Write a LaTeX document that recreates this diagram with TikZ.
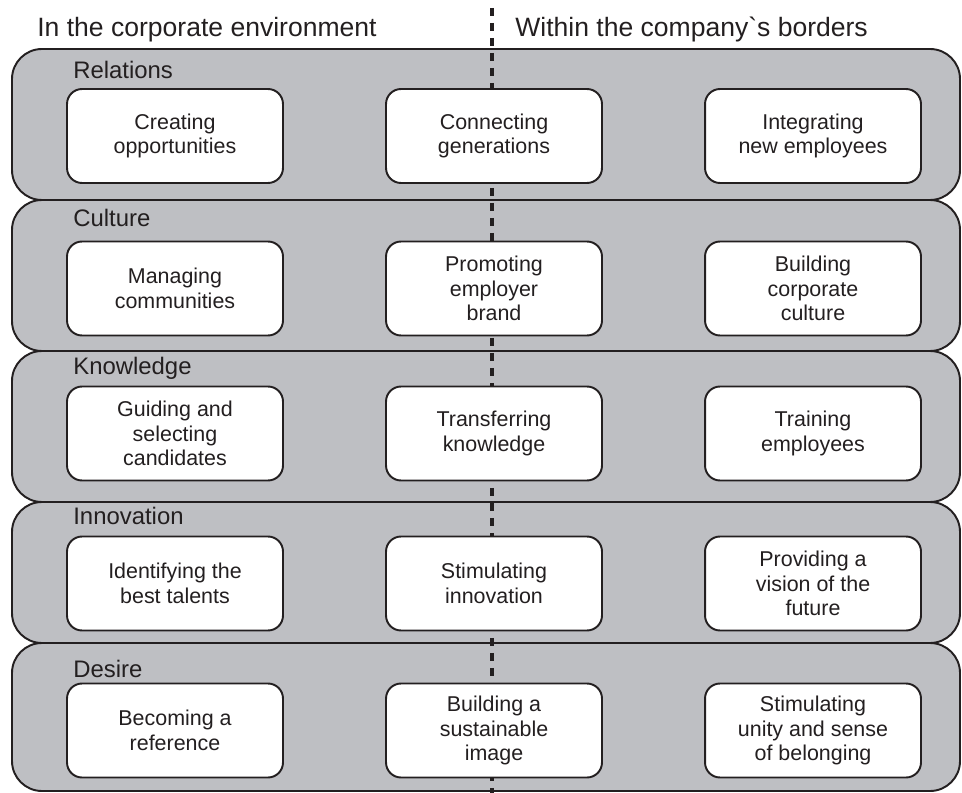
\documentclass[tikz,border=0pt]{standalone}
\usepackage{fontspec}
\newfontfamily\heliv{Liberation Sans}
\usetikzlibrary{positioning}
\definecolor{bandgray}{RGB}{190,191,195}
\definecolor{ink}{RGB}{35,31,32}

\begin{document}
\begin{tikzpicture}[
    x = 0.02cm, y = -0.02cm,
    band/.style = {
      draw = ink, fill = bandgray, line width = 1.1pt, rounded corners = 0.6cm
    },
    heading/.style = {
      anchor = base west, inner sep = 0pt, text = ink,
      font = \heliv\fontsize{15.1}{18}\selectfont
    },
    topic/.style = {
      anchor = base west, inner sep = 0pt, text = ink,
      font = \heliv\fontsize{13.6}{16}\selectfont
    },
    activity/.style = {
      draw = ink, fill = white, line width = 1.1pt, rounded corners = 0.3cm,
      minimum width = 4.32cm, minimum height = 1.88cm, inner sep = 0pt,
      align = center, text = ink, font = \heliv\fontsize{12.2}{13.9}\selectfont
    },
    divider/.style = {
      draw = ink, line width = 0.08cm, dash pattern = on 0.16cm off 0.14cm
    }
  ]
  \useasboundingbox (0, 0) rectangle (962, 793);

  % the five bands
  \foreach \t/\b in {49/200, 200/351, 351/502, 502/643, 643/791}
    \draw[band] (12, \t) rectangle (960, \b);

  \node[heading] (env) at (37, 37) {In the corporate environment};
  \node[heading] (comp) at (515, 37) {Within the company`s borders};

  \coordinate (divtop) at (492, 8);
  \coordinate (divbot) at (492, 793);
  \draw[divider] (divtop) -- (divbot);

  \foreach \y/\lab in {79/Relations, 227/Culture, 375/Knowledge,
                       524/Innovation, 677/Desire}
    \node[topic] at (73, \y) {\lab};

  % Relations
  \node[activity] (rel-l) at (175, 136) {Creating\\opportunities};
  \node[activity] (rel-m) at (494, 136) {Connecting\\generations};
  \node[activity] (rel-r) at (813, 136) {Integrating\\new employees};
  % Culture
  \node[activity] (cul-l) at (175, 288.5) {Managing\\communities};
  \node[activity] (cul-m) at (494, 288.5) {Promoting\\employer\\brand};
  \node[activity] (cul-r) at (813, 288.5) {Building\\corporate\\culture};
  % Knowledge
  \node[activity] (kno-l) at (175, 433.5) {Guiding and\\selecting\\candidates};
  \node[activity] (kno-m) at (494, 433.5) {Transferring\\knowledge};
  \node[activity] (kno-r) at (813, 433.5) {Training\\employees};
  % Innovation
  \node[activity] (inn-l) at (175, 583.5) {Identifying the\\best talents};
  \node[activity] (inn-m) at (494, 583.5) {Stimulating\\innovation};
  \node[activity] (inn-r) at (813, 583.5) {Providing a\\vision of the\\future};
  % Desire
  \node[activity] (des-l) at (175, 730.5) {Becoming a\\reference};
  \node[activity] (des-m) at (494, 730.5) {Building a\\sustainable\\image};
  \node[activity] (des-r) at (813, 730.5) {Stimulating\\unity and sense\\of belonging};
\end{tikzpicture}
\end{document}
